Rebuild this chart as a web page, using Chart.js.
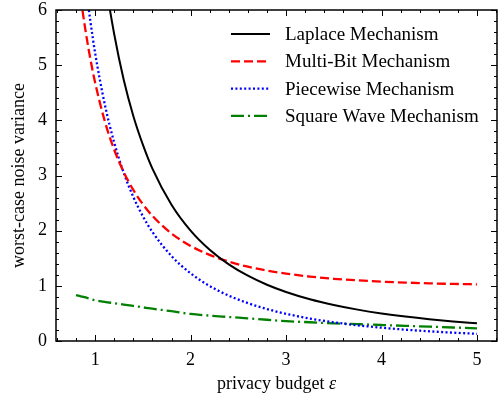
<!DOCTYPE html>
<html>
<head>
<meta charset="utf-8">
<script src="https://cdn.jsdelivr.net/npm/chart.js@4"></script>
<style>
  html, body { margin: 0; padding: 0; background: #fff; }
  #wrap { width: 498px; height: 401px; }
</style>
</head>
<body>
<div id="wrap"><canvas id="grafico" width="498" height="401"></canvas></div>
<script>
// privacy budget values
const epsilon = [0.8, 0.85, 0.9, 0.95, 1.0, 1.1, 1.2, 1.3, 1.4, 1.5, 1.6, 1.8, 2.0,
  2.2, 2.4, 2.6, 2.8, 3.0, 3.25, 3.5, 3.75, 4.0, 4.25, 4.5, 4.75, 5.0];

const laplace = [12.5, 11.07, 9.88, 8.86, 8.0, 6.61, 5.56, 4.73, 4.08, 3.56, 3.125, 2.47, 2.0,
  1.653, 1.389, 1.183, 1.02, 0.889, 0.757, 0.653, 0.569, 0.5, 0.443, 0.395, 0.355, 0.32];

const multiBit = [6.93, 6.215, 5.618, 5.113, 4.683, 3.992, 3.467, 3.06, 2.738, 2.479, 2.268, 1.949, 1.724,
  1.561, 1.439, 1.347, 1.276, 1.221, 1.168, 1.128, 1.099, 1.076, 1.059, 1.045, 1.035, 1.027];

const piecewise = [8.22, 7.27, 6.475, 5.8, 5.22, 4.298, 3.595, 3.047, 2.612, 2.262, 1.976, 1.539, 1.228,
  0.997, 0.822, 0.687, 0.579, 0.493, 0.407, 0.339, 0.285, 0.241, 0.205, 0.176, 0.151, 0.13];

const squareWave = [0.83, 0.81, 0.79, 0.76, 0.74, 0.71, 0.685, 0.66, 0.635, 0.61, 0.585, 0.54, 0.49,
  0.46, 0.435, 0.41, 0.385, 0.36, 0.34, 0.32, 0.305, 0.29, 0.275, 0.26, 0.245, 0.23];

const etiquetas = ["Laplace Mechanism", "Multi-Bit Mechanism", "Piecewise Mechanism", "Square Wave Mechanism"];
const xTicks = [1, 2, 3, 4, 5];
const yTicks = [0, 1, 2, 3, 4, 5, 6];
const tituloX = ["privacy budget ", "\u03b5"];

const fuente = "Liberation Serif";
const tam = 18;

function puntos(serie) {
  return epsilon.map((e, i) => ({ x: e, y: serie[i] }));
}

// ticks hacia adentro en los cuatro lados + marco + leyenda + título x
const marcoPlugin = {
  id: "marco",
  afterDatasetsDraw(chart) {
    const { ctx, chartArea: a, scales } = chart;
    ctx.save();
    ctx.strokeStyle = "#000";
    ctx.lineWidth = 1;
    const xs = scales.x, ys = scales.y;
    for (let k = Math.ceil(xs.min * 5); k <= Math.floor(xs.max * 5); k++) {
      const len = k % 5 === 0 ? 6 : 3;
      const px = Math.round(xs.getPixelForValue(k / 5)) + 0.5;
      ctx.beginPath();
      ctx.moveTo(px, a.bottom); ctx.lineTo(px, a.bottom - len);
      ctx.moveTo(px, a.top); ctx.lineTo(px, a.top + len);
      ctx.stroke();
    }
    for (let k = Math.ceil(ys.min * 5); k <= Math.floor(ys.max * 5); k++) {
      const len = k % 5 === 0 ? 6 : 3;
      const py = Math.round(ys.getPixelForValue(k / 5)) + 0.5;
      ctx.beginPath();
      ctx.moveTo(a.left, py); ctx.lineTo(a.left + len, py);
      ctx.moveTo(a.right, py); ctx.lineTo(a.right - len, py);
      ctx.stroke();
    }
    ctx.lineWidth = 1.5;
    ctx.strokeRect(a.left, a.top, a.right - a.left, a.bottom - a.top);

    // leyenda
    ctx.font = "19px '" + fuente + "'";
    ctx.textBaseline = "middle";
    ctx.fillStyle = "#000";
    chart.data.datasets.forEach((ds, i) => {
      const y = 34 + i * 27.3;
      ctx.beginPath();
      ctx.strokeStyle = ds.borderColor;
      ctx.lineWidth = ds.borderWidth;
      ctx.setLineDash(ds.borderDash || []);
      ctx.moveTo(231, y); ctx.lineTo(270, y);
      ctx.stroke();
      ctx.setLineDash([]);
      ctx.fillText(ds.label, 285, y + 1);
    });

    // título eje x con épsilon en cursiva
    const normal = tam + "px '" + fuente + "'";
    const cursiva = "italic " + tam + "px '" + fuente + "'";
    ctx.font = normal;
    const w1 = ctx.measureText(tituloX[0]).width;
    ctx.font = cursiva;
    const w2 = ctx.measureText(tituloX[1]).width;
    const x0 = (a.left + a.right) / 2 - (w1 + w2) / 2;
    const yT = 384;
    ctx.textAlign = "left";
    ctx.font = normal;
    ctx.fillText(tituloX[0], x0, yT);
    ctx.font = cursiva;
    ctx.fillText(tituloX[1], x0 + w1, yT);
    ctx.restore();
  }
};

const ctx = document.getElementById("grafico").getContext("2d");
new Chart(ctx, {
  type: "line",
  data: {
    datasets: [
      { label: etiquetas[0], data: puntos(laplace), borderColor: "#000000", borderWidth: 2, borderDash: [] },
      { label: etiquetas[1], data: puntos(multiBit), borderColor: "#ff0000", borderWidth: 2.3, borderDash: [9, 4] },
      { label: etiquetas[2], data: puntos(piecewise), borderColor: "#0000ff", borderWidth: 2.3, borderDash: [2, 2.4] },
      { label: etiquetas[3], data: puntos(squareWave), borderColor: "#008000", borderWidth: 2.3, borderDash: [13, 4, 2, 4] }
    ]
  },
  options: {
    responsive: false,
    animation: false,
    devicePixelRatio: 1,
    layout: { padding: { top: 10, right: 1, left: 0, bottom: 0 } },
    elements: {
      point: { radius: 0 },
      line: { cubicInterpolationMode: "monotone", fill: false }
    },
    plugins: {
      legend: { display: false },
      tooltip: { enabled: false }
    },
    scales: {
      x: {
        type: "linear",
        min: 0.59,
        max: 5.21,
        afterBuildTicks: (axis) => { axis.ticks = xTicks.map((v) => ({ value: v })); },
        afterFit: (axis) => { axis.height = 60; axis.paddingLeft = 0; axis.paddingRight = 0; },
        grid: { display: false, drawTicks: false },
        border: { display: false },
        ticks: { padding: 8, color: "#000", font: { family: fuente, size: tam } },
        title: { display: false }
      },
      y: {
        min: 0,
        max: 6,
        afterBuildTicks: (axis) => { axis.ticks = yTicks.map((v) => ({ value: v })); },
        afterFit: (axis) => { axis.width = 56; axis.paddingTop = 0; axis.paddingBottom = 0; },
        grid: { display: false, drawTicks: false },
        border: { display: false },
        ticks: { padding: 9, color: "#000", font: { family: fuente, size: tam } },
        title: {
          display: true,
          text: "worst-case noise variance",
          color: "#000",
          font: { family: fuente, size: tam },
          padding: { top: 8, bottom: 0 }
        }
      }
    }
  },
  plugins: [marcoPlugin]
});
</script>
</body>
</html>
